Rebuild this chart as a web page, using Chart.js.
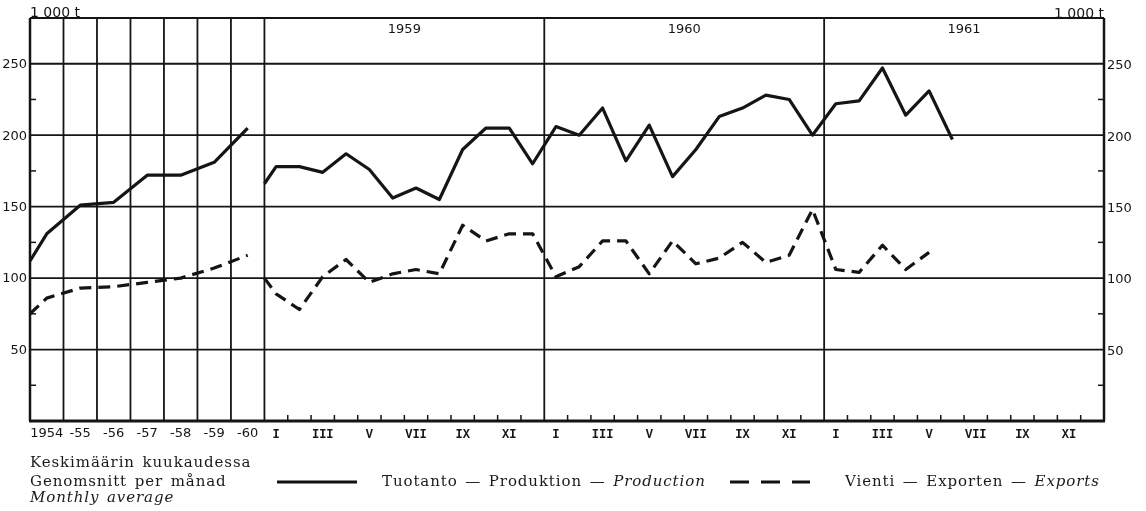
<!DOCTYPE html>
<html>
<head>
<meta charset="utf-8">
<script src="https://cdn.jsdelivr.net/npm/chart.js@4.4.1/dist/chart.umd.min.js"></script>
<style>
  body{margin:0;background:#fff;}
  #wrap{position:relative;width:1146px;height:511px;overflow:hidden;background:#fff;}
  canvas{position:absolute;left:0;top:0;}
  .lg{position:absolute;font-family:"DejaVu Serif",serif;font-size:15px;letter-spacing:0.9px;word-spacing:2px;color:#1a1a1a;white-space:nowrap;line-height:15px;}
  .lg i{font-style:italic;}
</style>
</head>
<body>
<div id="wrap">
  <canvas id="chart" width="1146" height="511"></canvas>
  <div class="lg" style="left:30px;top:455px">Keskimäärin kuukaudessa</div>
  <div class="lg" style="left:30px;top:474px">Genomsnitt per månad</div>
  <div class="lg" style="left:30px;top:490px"><i>Monthly average</i></div>
  <svg style="position:absolute;left:0;top:0" width="1146" height="511">
    <line x1="277" y1="482" x2="357" y2="482" stroke="#111" stroke-width="3"/>
    <line x1="730" y1="482" x2="810" y2="482" stroke="#111" stroke-width="3" stroke-dasharray="19 12"/>
  </svg>
  <div class="lg" style="left:382px;top:474px">Tuotanto — Produktion — <i>Production</i></div>
  <div class="lg" style="left:845px;top:474px">Vienti — Exporten — <i>Exports</i></div>
</div>
<script>
// annual averages 1954-1960
let years = ['1954','-55','-56','-57','-58','-59','-60'];
let annualProd = [131,151,153,172,172,181,205];
let annualExp = [86,93,94,97,100,107,116];
let annualProdStart = 112, annualExpStart = 75;

// monthly 1959 - 1961
let yearNames = ['1959','1960','1961'];
let months = ['I','II','III','IV','V','VI','VII','VIII','IX','X','XI','XII'];
let monthlyProd = [178,178,174,187,176,156,163,155,190,205,205,180,
                   206,200,219,182,207,171,190,213,219,228,225,200,
                   222,224,247,214,231,197];
let monthlyExp = [89,78,101,113,97,103,106,103,137,126,131,131,
                  101,108,126,126,103,126,110,114,125,111,116,148,
                  106,104,123,106,118];
let monthlyProdStart = 166, monthlyExpStart = 100;

let yTicks = [50,100,150,200,250];
let yMinor = [25,75,125,175,225];

// one annual column is wider than a month column
const A = 1.436;
const M0 = years.length * A;

function annualPts(start, vals){
  let pts = [{x:0, y:start}];
  vals.forEach((v,i)=>pts.push({x:(i+0.5)*A, y:v}));
  return pts;
}
function monthlyPts(start, vals){
  let pts = [{x:M0, y:start}];
  vals.forEach((v,i)=>pts.push({x:M0+i+0.5, y:v}));
  return pts;
}

const ink = '#151515';

const paper = {
  id:'paper',
  beforeDatasetsDraw(chart){
    let ctx = chart.ctx, a = chart.chartArea;
    let xs = chart.scales.x, ys = chart.scales.y;
    ctx.save();
    ctx.strokeStyle = ink;
    ctx.lineCap = 'butt';

    // horizontal grid
    ctx.lineWidth = 1.8;
    yTicks.forEach(v=>{
      let y = ys.getPixelForValue(v);
      ctx.beginPath(); ctx.moveTo(a.left,y); ctx.lineTo(a.right,y); ctx.stroke();
    });
    ctx.beginPath(); ctx.moveTo(a.left,a.top); ctx.lineTo(a.right,a.top); ctx.stroke();

    // annual columns + year separators
    for(let i=1;i<=years.length;i++){
      let x = xs.getPixelForValue(i*A);
      ctx.beginPath(); ctx.moveTo(x,a.top); ctx.lineTo(x,a.bottom); ctx.stroke();
    }
    for(let k=1;k<yearNames.length;k++){
      let x = xs.getPixelForValue(M0+12*k);
      ctx.beginPath(); ctx.moveTo(x,a.top); ctx.lineTo(x,a.bottom); ctx.stroke();
    }

    // month ticks
    ctx.lineWidth = 1.5;
    for(let k=0;k<yearNames.length;k++){
      for(let m=1;m<12;m++){
        let x = xs.getPixelForValue(M0+12*k+m);
        ctx.beginPath(); ctx.moveTo(x,a.bottom); ctx.lineTo(x,a.bottom-6); ctx.stroke();
      }
    }

    // minor y ticks
    yMinor.forEach(v=>{
      let y = ys.getPixelForValue(v);
      ctx.beginPath(); ctx.moveTo(a.left,y); ctx.lineTo(a.left+6,y); ctx.stroke();
      ctx.beginPath(); ctx.moveTo(a.right,y); ctx.lineTo(a.right-6,y); ctx.stroke();
    });

    // frame
    ctx.lineWidth = 2.5;
    ctx.beginPath(); ctx.moveTo(a.left,a.top); ctx.lineTo(a.left,a.bottom); ctx.stroke();
    ctx.beginPath(); ctx.moveTo(a.right,a.top); ctx.lineTo(a.right,a.bottom); ctx.stroke();
    ctx.lineWidth = 3;
    ctx.beginPath(); ctx.moveTo(a.left-1,a.bottom); ctx.lineTo(a.right+1,a.bottom); ctx.stroke();

    // labels
    ctx.fillStyle = ink;
    ctx.font = '13px "DejaVu Sans"';
    ctx.textBaseline = 'middle';
    yTicks.forEach(v=>{
      let y = ys.getPixelForValue(v);
      ctx.textAlign = 'right'; ctx.fillText(String(v), a.left-3, y+1);
      ctx.textAlign = 'left'; ctx.fillText(String(v), a.right+3, y+2);
    });
    ctx.font = '14px "DejaVu Sans"';
    ctx.textBaseline = 'alphabetic';
    ctx.textAlign = 'left'; ctx.fillText('1 000 t', a.left, a.top-1);
    ctx.textAlign = 'right'; ctx.fillText('1 000 t', a.right, a.top);

    ctx.font = '13px "DejaVu Sans"';
    ctx.textAlign = 'center'; ctx.textBaseline = 'middle';
    yearNames.forEach((t,k)=>{
      ctx.fillText(t, xs.getPixelForValue(M0+12*k+6), a.top+12);
    });
    years.forEach((t,i)=>{
      ctx.fillText(t, xs.getPixelForValue((i+0.5)*A), a.bottom+13);
    });
    ctx.font = 'bold 12px "Liberation Mono"';
    for(let k=0;k<yearNames.length;k++){
      months.forEach((t,m)=>{
        if(m%2==0) ctx.fillText(t, xs.getPixelForValue(M0+12*k+m+0.5), a.bottom+14);
      });
    }
    ctx.restore();
  }
};

function lineSet(pts, dashed){
  return {
    data: pts,
    borderColor: ink,
    borderWidth: 3.2,
    borderDash: dashed ? [12,7] : [],
    borderJoinStyle: 'round',
    pointRadius: 0,
    tension: 0,
    fill: false
  };
}

new Chart(document.getElementById('chart'), {
  type: 'line',
  data: {
    datasets: [
      lineSet(annualPts(annualProdStart, annualProd), false),
      lineSet(annualPts(annualExpStart, annualExp), true),
      lineSet(monthlyPts(monthlyProdStart, monthlyProd), false),
      lineSet(monthlyPts(monthlyExpStart, monthlyExp), true)
    ]
  },
  options: {
    responsive: false,
    animation: false,
    layout: {padding: {left:30, right:42, top:18, bottom:90}},
    plugins: {legend:{display:false}, tooltip:{enabled:false}},
    scales: {
      x: {type:'linear', display:false, min:0, max:M0+36},
      y: {type:'linear', display:false, min:0, max:282}
    }
  },
  plugins: [paper]
});
</script>
</body>
</html>
